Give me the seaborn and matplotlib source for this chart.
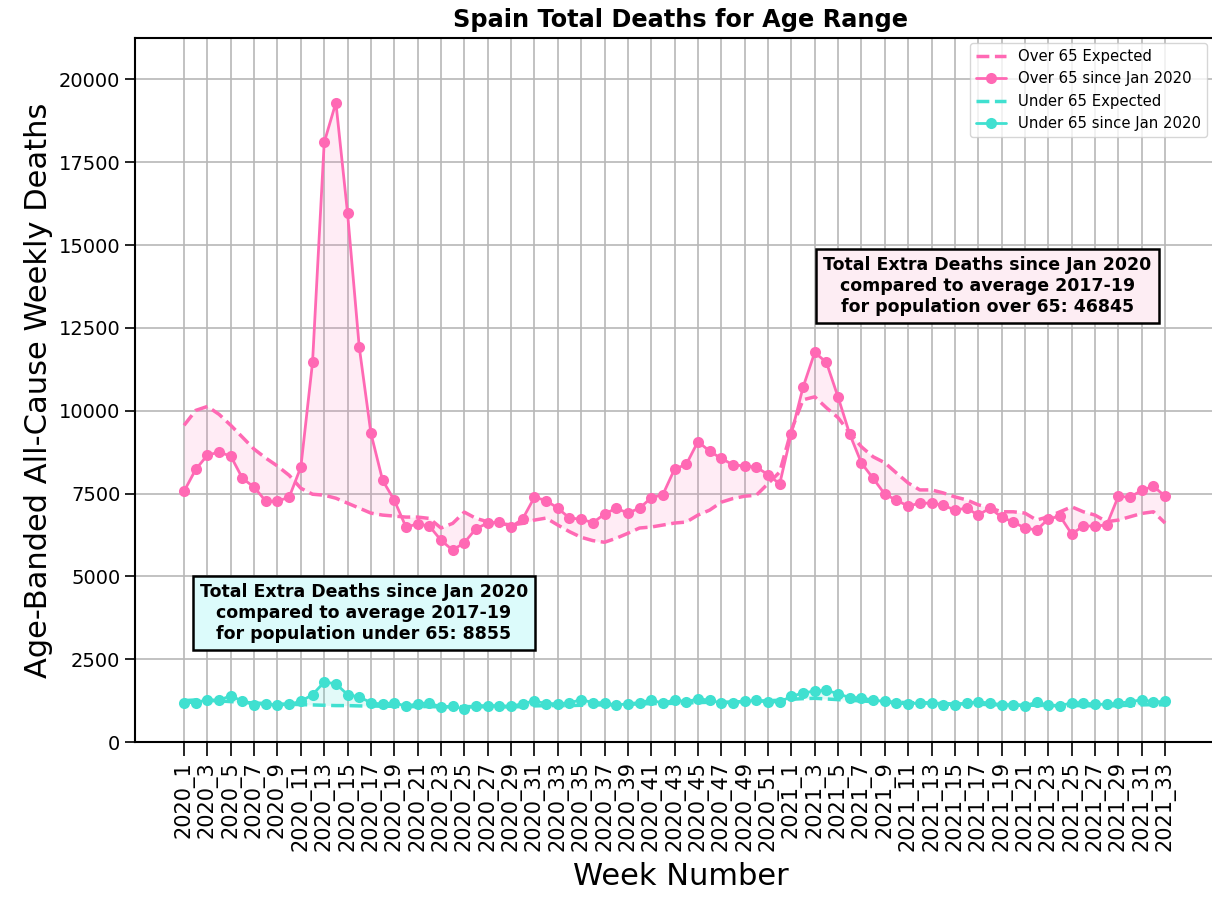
import numpy as np
import pandas as pd
import matplotlib
matplotlib.use("Agg")
import matplotlib.pyplot as plt
import seaborn as sns

# week labels: 2020 has 52 weeks in the data, 2021 runs to week 33
weeks_2020 = [f"2020_{w}" for w in range(1, 53)]
weeks_2021 = [f"2021_{w}" for w in range(1, 34)]
week_labels = weeks_2020 + weeks_2021

over65_actual = [
    7570, 8230, 8660, 8750, 8630, 7960, 7690, 7270, 7270, 7390,
    8300, 11460, 18100, 19300, 15960, 11920, 9320, 7900, 7300, 6490,
    6580, 6520, 6090, 5790, 6020, 6440, 6610, 6640, 6490, 6740,
    7390, 7290, 7060, 6760, 6730, 6620, 6880, 7060, 6910, 7060,
    7370, 7470, 8240, 8380, 9070, 8780, 8560, 8370, 8330, 8300,
    8070, 7790,
    9310, 10710, 11760, 11460, 10410, 9290, 8420, 7960, 7480, 7300,
    7120, 7210, 7210, 7150, 7000, 7060, 6850, 7060, 6790, 6640,
    6460, 6400, 6730, 6820, 6280, 6520, 6520, 6550, 7420, 7390,
    7600, 7720, 7420,
]
over65_expected = [
    9560, 10010, 10130, 9890, 9560, 9200, 8840, 8570, 8330, 8050,
    7660, 7480, 7450, 7360, 7210, 7060, 6910, 6850, 6820, 6790,
    6790, 6750, 6460, 6600, 6940, 6750, 6650, 6600, 6550, 6600,
    6700, 6760, 6550, 6350, 6180, 6080, 6030, 6150, 6300, 6460,
    6490, 6550, 6610, 6640, 6850, 7000, 7240, 7350, 7420, 7450,
    7800, 8150,
    9410, 10330, 10420, 10090, 9790, 9330, 8910, 8610, 8430, 8120,
    7820, 7610, 7610, 7520, 7400, 7310, 7160, 7070, 6950, 6950,
    6910, 6700, 6800, 6950, 7100, 6950, 6850, 6650, 6700, 6800,
    6900, 6950, 6610,
]
under65_actual = [
    1190, 1190, 1280, 1260, 1400, 1230, 1130, 1160, 1110, 1140,
    1230, 1430, 1810, 1760, 1430, 1360, 1190, 1140, 1190, 1080,
    1160, 1180, 1060, 1080, 1000, 1100, 1100, 1100, 1080, 1160,
    1240, 1160, 1160, 1180, 1280, 1190, 1190, 1110, 1160, 1190,
    1270, 1170, 1280, 1210, 1310, 1260, 1180, 1190, 1230, 1260,
    1210, 1210,
    1380, 1480, 1540, 1560, 1460, 1340, 1340, 1260, 1230, 1180,
    1140, 1190, 1190, 1130, 1130, 1180, 1210, 1180, 1130, 1130,
    1090, 1210, 1110, 1090, 1190, 1190, 1140, 1140, 1180, 1210,
    1280, 1210, 1230,
]
under65_expected = [
    1250, 1270, 1260, 1240, 1220, 1200, 1180, 1160, 1150, 1140,
    1130, 1120, 1110, 1100, 1100, 1090, 1090, 1080, 1080, 1070,
    1070, 1070, 1060, 1060, 1070, 1070, 1060, 1060, 1060, 1070,
    1090, 1100, 1100, 1100, 1110, 1120, 1120, 1130, 1140, 1150,
    1160, 1160, 1170, 1180, 1190, 1200, 1200, 1210, 1220, 1230,
    1250, 1260,
    1290, 1310, 1320, 1300, 1280, 1260, 1240, 1220, 1210, 1200,
    1190, 1180, 1170, 1160, 1150, 1150, 1140, 1130, 1120, 1120,
    1110, 1110, 1100, 1100, 1100, 1100, 1090, 1090, 1100, 1110,
    1120, 1130, 1120,
]

extra_over65 = 46845
extra_under65 = 8855

PINK = "#ff69b4"
TURQ = "#40e0d0"

df = pd.DataFrame({
    "pos": np.arange(len(week_labels)),
    "week": week_labels,
    "over_act": over65_actual,
    "over_exp": over65_expected,
    "under_act": under65_actual,
    "under_exp": under65_expected,
})

sns.set_style("ticks")
plt.rcParams["font.family"] = ["DejaVu Sans"]
plt.rcParams["text.color"] = "black"
plt.rcParams["axes.labelcolor"] = "black"
plt.rcParams["xtick.color"] = "black"
plt.rcParams["ytick.color"] = "black"

fig = plt.figure(figsize=(12.12, 8.99), dpi=100)
# the right edge of the frame runs past the picture, as in the original
ax = fig.add_axes([0.1114, 0.1746, 0.9, 0.7831])

# over 65
sns.lineplot(data=df, x="pos", y="over_exp", ax=ax, color=PINK, linestyle="--",
             linewidth=2.5, label="Over 65 Expected")
sns.lineplot(data=df, x="pos", y="over_act", ax=ax, color=PINK, linewidth=2,
             marker="o", markersize=8, markeredgewidth=0,
             label="Over 65 since Jan 2020")
ax.fill_between(df["pos"], df["over_exp"], df["over_act"], color=PINK, alpha=0.12, lw=0)

# under 65
sns.lineplot(data=df, x="pos", y="under_exp", ax=ax, color=TURQ, linestyle="--",
             linewidth=2.5, label="Under 65 Expected")
sns.lineplot(data=df, x="pos", y="under_act", ax=ax, color=TURQ, linewidth=2,
             marker="o", markersize=8, markeredgewidth=0,
             label="Under 65 since Jan 2020")
ax.fill_between(df["pos"], df["under_exp"], df["under_act"], color=TURQ, alpha=0.15, lw=0)

ax.set_xticks(df["pos"][::2])
ax.set_xticklabels(df["week"][::2], rotation=90, fontsize=15)
ax.set_yticks(np.arange(0, 20001, 2500))
ax.tick_params(axis="y", labelsize=14, length=7, width=1.2)
ax.tick_params(axis="x", length=10, width=1.2)
ax.set_xlim(-4.2, 89.2)
ax.set_ylim(0, 21250)
ax.grid(True, color="#b8b8b8", linewidth=1.2)
ax.set_axisbelow(True)
for s in ax.spines.values():
    s.set_color("black")
    s.set_linewidth(1.5)

ax.set_title("Spain Total Deaths for Age Range", fontsize=17.3, fontweight="bold", pad=8)
ax.set_xlabel("Week Number", fontsize=22, labelpad=8)
ax.set_ylabel("Age-Banded All-Cause Weekly Deaths", fontsize=22)

ax.text(68.8, 13770,
        "Total Extra Deaths since Jan 2020\ncompared to average 2017-19\n"
        f"for population over 65: {extra_over65}",
        ha="center", va="center", fontsize=12.5, fontweight="bold",
        bbox=dict(boxstyle="square,pad=0.4", facecolor="#fdedf3",
                  edgecolor="black", linewidth=1.8))
ax.text(15.4, 3900,
        "Total Extra Deaths since Jan 2020\ncompared to average 2017-19\n"
        f"for population under 65: {extra_under65}",
        ha="center", va="center", fontsize=12.5, fontweight="bold",
        bbox=dict(boxstyle="square,pad=0.4", facecolor="#dcfbfb",
                  edgecolor="black", linewidth=1.8))

ax.legend(loc="upper right", bbox_to_anchor=(0.9826, 0.993), borderaxespad=0,
          fontsize=10.7, frameon=True)

fig.savefig("out.png", dpi=100)
